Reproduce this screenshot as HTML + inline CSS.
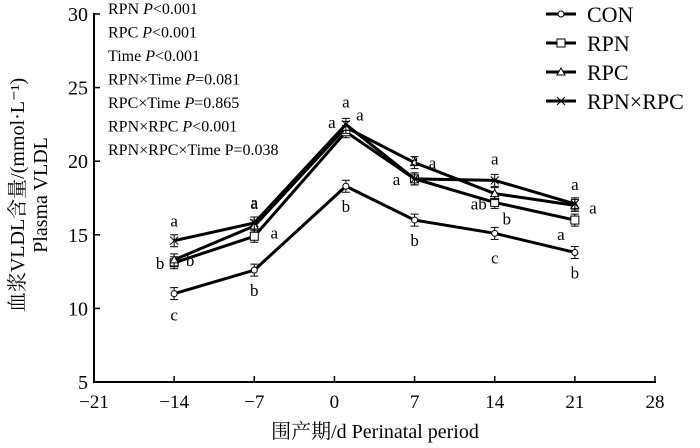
<!DOCTYPE html>
<html><head><meta charset="utf-8"><style>
body{margin:0;background:#fff}
svg{display:block;font-family:"Liberation Serif","Noto Serif CJK SC",serif}
</style></head><body>
<svg id="chart" width="700" height="448" viewBox="0 0 700 448"></svg>
<script>
const days=[-14,-7,1,7,14,21];
const seriesNames=["CON","RPN","RPC","RPN×RPC"];
const conVals=[11.0,12.6,18.3,16.0,15.1,13.8];
const rpnVals=[13.1,14.9,22.0,18.8,17.2,16.0];
const rpcVals=[13.3,15.6,22.3,19.9,17.8,17.0];
const rxrVals=[14.6,15.8,22.5,18.8,18.7,17.1];
const xTicks=[-21,-14,-7,0,7,14,21,28];
const yTicks=[5,10,15,20,25,30];
const labels=[["c","b","b","b","c","b"],["b","a","a","a","b","a"],["b","a","a","a","ab","a"],["a","a","a","a","a","a"]];
// label offsets (style only, px)
const lblOff=[
 [[0,27],[0,26],[0,26],[0,26],[0,30],[0,26]],
 [[-14,6],[20,2],[-14,-4],[-18,6],[12,22],[-14,20]],
 [[16,6],[0,-18],[0,-20],[18,6],[-16,16],[18,8]],
 [[0,-14],[0,-14],[14,-4],[0,-14],[0,-16],[0,-14]]];
const NS="http://www.w3.org/2000/svg";
const svg=document.getElementById('chart');
const X=v=>94+(v+21)*(561/49);
const Y=v=>382-(v-5)*(368/25);
function mk(t,a,p){const e=document.createElementNS(NS,t);for(const k in a)e.setAttribute(k,a[k]);(p||svg).appendChild(e);return e;}
let ax=mk('line',{x1:94,y1:13,x2:94,y2:383,stroke:'#000','stroke-width':2});

ax=mk('line',{x1:93,y1:382,x2:656,y2:382,stroke:'#000','stroke-width':2});

xTicks.forEach(t=>{mk('line',{x1:X(t),y1:382,x2:X(t),y2:376,stroke:'#000','stroke-width':1.5});
 const tx=mk('text',{x:X(t),y:408,'text-anchor':'middle','font-size':19});tx.textContent=(t<0?'−'+(-t):t);
 });
yTicks.forEach(t=>{mk('line',{x1:94,y1:Y(t),x2:100,y2:Y(t),stroke:'#000','stroke-width':1.5});
 const tx=mk('text',{x:88,y:Y(t)+7,'text-anchor':'end','font-size':20});tx.textContent=t;
 });
let t=mk('text',{x:375,y:438,'text-anchor':'middle','font-size':20});t.textContent='围产期/d  Perinatal period';

t=mk('text',{transform:'translate(24,195) rotate(-90)','text-anchor':'middle','font-size':20});t.textContent='血浆VLDL含量/(mmol·L⁻¹)';

t=mk('text',{transform:'translate(47,195) rotate(-90)','text-anchor':'middle','font-size':20});t.textContent='Plasma VLDL';

const stats=['RPN <i>P</i>&lt;0.001','RPC <i>P</i>&lt;0.001','Time <i>P</i>&lt;0.001','RPN×Time <i>P</i>=0.081','RPC×Time <i>P</i>=0.865','RPN×RPC <i>P</i>&lt;0.001','RPN×RPC×Time P=0.038'];
stats.forEach((s,i)=>{const e=mk('text',{x:108,y:14+i*23.5,'font-size':16});
 e.innerHTML=s.replace(/<i>/g,'<tspan font-style="italic">').replace(/<\/i>/g,'</tspan>');
 });
const all=[conVals,rpnVals,rpcVals,rxrVals];
function marker(k,x,y,g){
 if(k==0)mk('circle',{cx:x,cy:y,r:3,fill:'#fff',stroke:'#000'},g);
 else if(k==1)mk('rect',{x:x-4,y:y-4,width:8,height:8,fill:'#fff',stroke:'#000'},g);
 else if(k==2)mk('path',{d:`M${x-4} ${y+3}L${x} ${y-4}L${x+4} ${y+3}Z`,fill:'#fff',stroke:'#000'},g);
 else mk('path',{d:`M${x-4} ${y-4}L${x+4} ${y+4}M${x-4} ${y+4}L${x+4} ${y-4}`,stroke:'#000'},g);
}
all.forEach((vals,k)=>{
 const g=mk('g',{});
 const p=mk('polyline',{points:vals.map((v,i)=>X(days[i])+','+Y(v)).join(' '),fill:'none',stroke:'#000','stroke-width':3},g);
 
 vals.forEach((v,i)=>{const x=X(days[i]),y=Y(v);
  mk('path',{d:`M${x-4} ${y-6}H${x+4}M${x} ${y-6}V${y+6}M${x-4} ${y+6}H${x+4}`,stroke:'#000','stroke-width':1},g);
  marker(k,x,y,g);
  const o=lblOff[k][i];
  const lt=mk('text',{x:x+o[0],y:y+o[1],'text-anchor':'middle','font-size':17},g);
  lt.textContent=labels[k][i];
 });
});
seriesNames.forEach((n,i)=>{const g=mk('g',{});
 const y=14+i*29;mk('line',{x1:546,y1:y,x2:576,y2:y,stroke:'#000','stroke-width':3},g);marker(i,561,y,g);
 const e=mk('text',{x:587,y:y+8,'font-size':22},g);e.textContent=n;});
</script>
</body></html>
